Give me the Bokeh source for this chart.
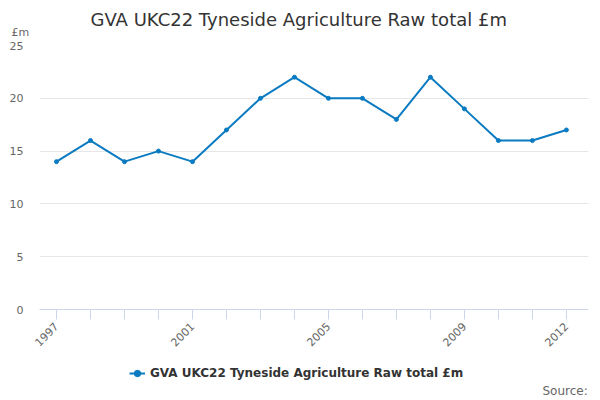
from bokeh.plotting import figure
from bokeh.models import FixedTicker, Legend, LegendItem, Range1d, Label
from bokeh.layouts import column
from bokeh.embed import file_html
from bokeh.resources import INLINE
import math

years = list(range(1997, 2013))
values = [14, 16, 14, 15, 14, 17, 20, 22, 20, 20, 18, 22, 19, 16, 16, 17]
shown_years = [1997, 2001, 2005, 2009, 2012]
y_ticks = [0, 5, 10, 15, 20, 25]
series_name = "GVA UKC22 Tyneside Agriculture Raw total £m"
title_text = "GVA UKC22 Tyneside Agriculture Raw total £m"
unit_text = "£m"
source_text = "Source:"

FONT = "DejaVu Sans"
COLOR = "#0b7bc1"


def blank_fig(h):
    f = figure(width=592, height=h, output_backend="svg", toolbar_location=None,
               x_axis_type=None, y_axis_type=None,
               x_range=Range1d(0, 1), y_range=Range1d(1000, 1001),
               min_border_left=0, min_border_right=0, min_border_top=0, min_border_bottom=0)
    f.outline_line_color = None
    f.title = None
    f.grid.grid_line_color = None
    return f


# header: title and unit (own frame spanning the whole header)
p0 = blank_fig(37)
p0.add_layout(Label(x=90, y=18, x_units="screen", y_units="screen", text=title_text,
                    text_baseline="middle", text_font=FONT, text_font_size="18px",
                    text_color="#333333"))
p0.add_layout(Label(x=11, y=5, x_units="screen", y_units="screen", text=unit_text,
                    text_baseline="middle", text_font=FONT, text_font_size="11px",
                    text_color="#666666"))

# main chart
p = figure(width=592, height=315, output_backend="svg", toolbar_location=None,
           x_range=Range1d(1996.5, 2012.65), y_range=Range1d(0, 25),
           min_border_left=39, min_border_right=4, min_border_top=8, min_border_bottom=40)
p.outline_line_color = None
p.background_fill_color = "white"
p.border_fill_color = "white"
p.title = None

p.xaxis.ticker = FixedTicker(ticks=years)
p.xaxis.major_label_overrides = {y: (str(y) if y in shown_years else "") for y in years}
p.xaxis.major_label_orientation = math.pi / 4
p.xaxis.major_label_text_font = FONT
p.xaxis.major_label_text_font_size = "11px"
p.xaxis.major_label_text_color = "#666666"
p.xaxis.axis_line_color = "#ccd6eb"
p.xaxis.major_tick_line_color = "#ccd6eb"
p.xaxis.major_tick_in = 0
p.xaxis.major_tick_out = 10
p.xaxis.minor_tick_line_color = None
p.xgrid.grid_line_color = None

p.yaxis.ticker = FixedTicker(ticks=y_ticks)
p.yaxis.axis_line_color = None
p.yaxis.major_tick_line_color = None
p.yaxis.minor_tick_line_color = None
p.yaxis.major_label_text_font = FONT
p.yaxis.major_label_text_font_size = "11px"
p.yaxis.major_label_text_color = "#666666"
p.yaxis.major_label_standoff = 10
p.ygrid.grid_line_color = "#e6e6e6"

p.line(years, values, line_color=COLOR, line_width=2)
p.scatter(years, values, size=4, fill_color=COLOR, line_color=COLOR)

# footer with legend and source
p2 = blank_fig(44)
ln2 = p2.line(years, values, line_color=COLOR, line_width=2)
sc2 = p2.scatter(years, values, size=4, fill_color=COLOR, line_color=COLOR)
legend = Legend(items=[LegendItem(label=series_name, renderers=[ln2, sc2])],
                orientation="horizontal", location=(90, 13), margin=0,
                label_text_font=FONT, label_text_font_size="12px", label_text_font_style="bold",
                label_text_color="#333333", glyph_width=16, border_line_color=None,
                background_fill_alpha=0, padding=4)
p2.add_layout(legend, "center")
p2.add_layout(Label(x=503, y=6, x_units="screen", y_units="screen", text=source_text,
                    text_baseline="middle",
                    text_font=FONT, text_font_size="12px", text_color="#666666"))

layout = column(p0, column(p, p2, spacing=0), spacing=0)
open("out.html", "w").write(file_html(layout, INLINE))
